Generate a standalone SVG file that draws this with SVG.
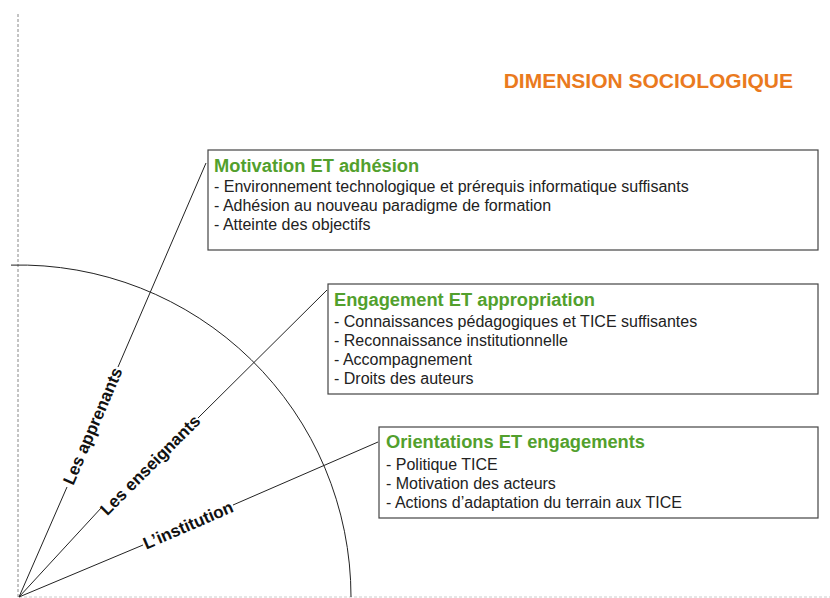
<svg xmlns="http://www.w3.org/2000/svg" width="830" height="598" viewBox="0 0 830 598">
<style>
  .box { fill: #ffffff; stroke: #444444; stroke-width: 1.2; }
  .title { font-family: "Liberation Sans", Arial, sans-serif; font-weight: bold; font-size: 18.3px; fill: #52a02d; }
  .item { font-family: "Liberation Sans", Arial, sans-serif; font-size: 16px; fill: #222222; }
  .ray { stroke: #222222; stroke-width: 1; fill: none; }
  .raylabel { font-family: "Liberation Sans", Arial, sans-serif; font-weight: bold; font-size: 17px; fill: #111111; text-anchor: middle; }
  .head { font-family: "Liberation Sans", Arial, sans-serif; font-weight: bold; font-size: 21px; fill: #ea7a1e; text-anchor: end; }
</style>
<rect width="830" height="598" fill="#ffffff"/>
<text class="head" x="793" y="88">DIMENSION SOCIOLOGIQUE</text>
<g id="axes">
  <line x1="18" y1="14" x2="18" y2="597" stroke="#888888" stroke-width="1" stroke-dasharray="3,2"/>
  <line x1="19" y1="597" x2="830" y2="597" stroke="#cccccc" stroke-width="1" stroke-dasharray="3,2"/>
  <path class="ray" d="M11,265.1 A332,332 0 0 1 351,597"/>
</g>
<g id="connectors">
  <line class="ray" x1="19" y1="597" x2="67" y2="487"/>
  <line class="ray" x1="118" y1="367" x2="206" y2="163"/>
  <line class="ray" x1="19" y1="597" x2="102" y2="507"/>
  <line class="ray" x1="198" y1="418" x2="327" y2="290"/>
  <line class="ray" x1="19" y1="597" x2="143" y2="545"/>
  <line class="ray" x1="233" y1="505" x2="378" y2="442"/>
  <text class="raylabel" transform="translate(92.5,426) rotate(-66.7)" y="6">Les apprenants</text>
  <text class="raylabel" transform="translate(150,465) rotate(-45)" y="6">Les enseignants</text>
  <text class="raylabel" transform="translate(188,525) rotate(-23.4)" y="6">L’institution</text>
</g>
<g id="node-motivation">
  <rect class="box" x="208" y="150" width="610" height="100"/>
  <text class="title" x="214" y="172">Motivation ET adhésion</text>
  <text class="item" x="214" y="192">- Environnement technologique et prérequis informatique suffisants</text>
  <text class="item" x="214" y="211">- Adhésion au nouveau paradigme de formation</text>
  <text class="item" x="214" y="230">- Atteinte des objectifs</text>
</g>
<g id="node-engagement">
  <rect class="box" x="328" y="284" width="490" height="110"/>
  <text class="title" x="334" y="306">Engagement ET appropriation</text>
  <text class="item" x="334" y="327">- Connaissances pédagogiques et TICE suffisantes</text>
  <text class="item" x="334" y="346">- Reconnaissance institutionnelle</text>
  <text class="item" x="334" y="365">- Accompagnement</text>
  <text class="item" x="334" y="384">- Droits des auteurs</text>
</g>
<g id="node-orientations">
  <rect class="box" x="379" y="427" width="439" height="91"/>
  <text class="title" x="386" y="448">Orientations ET engagements</text>
  <text class="item" x="386" y="470">- Politique TICE</text>
  <text class="item" x="386" y="489">- Motivation des acteurs</text>
  <text class="item" x="386" y="508">- Actions d’adaptation du terrain aux TICE</text>
</g>
</svg>
